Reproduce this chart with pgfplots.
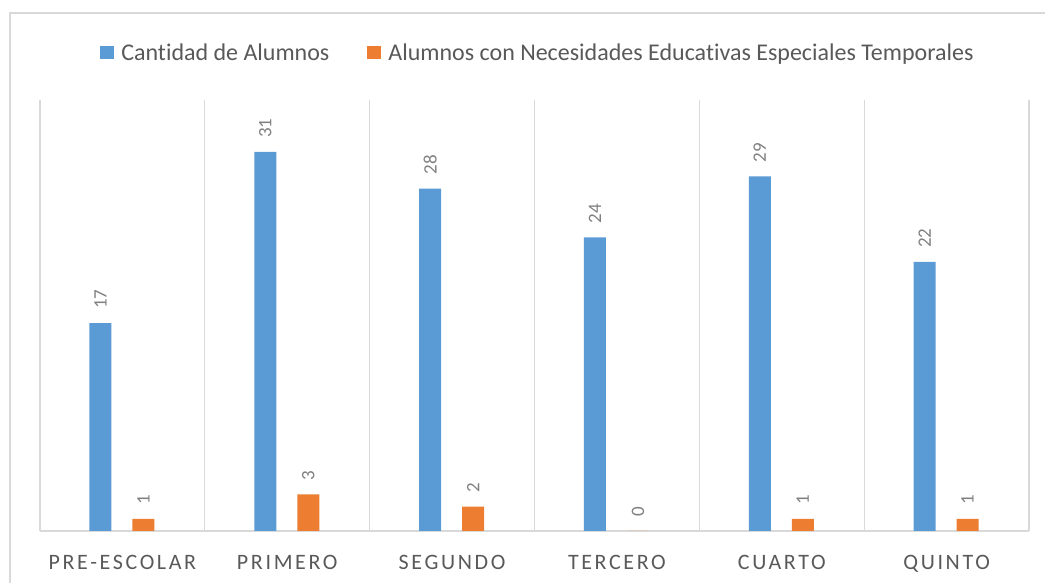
\documentclass[border=0pt]{standalone}
\usepackage{fontspec}
\setmainfont{Carlito}[Ligatures=NoCommon]
\usepackage{pgfplots}
\pgfplotsset{compat=1.18}
\definecolor{cblue}{HTML}{5B9BD5}
\definecolor{corange}{HTML}{ED7D31}
\definecolor{gridc}{HTML}{D9D9D9}
\definecolor{txt}{HTML}{595959}
\definecolor{lbl}{HTML}{808080}
\begin{document}
\begin{tikzpicture}[x=1pt,y=1pt]
\path[use as bounding box] (0,0) rectangle (1045,583);
\draw[gridc, line width=1.5pt] (10,-5) -- (10,570) -- (1050,570);
\begin{axis}[
  at={(40pt,52pt)}, anchor=south west,
  scale only axis, width=989pt, height=431pt,
  xmin=-0.5, xmax=5.5, ymin=0, ymax=35.24,
  clip=false,
  /pgf/number format/assume math mode=true,
  axis x line*=bottom, axis y line=none,
  x axis line style={gridc, line width=1.5pt, -},
  xtick={0,...,5},
  xticklabels={PRE-ESCOLAR,PRIMERO,SEGUNDO,TERCERO,CUARTO,QUINTO},
  major tick length=0pt,
  minor xtick={-0.5,0.5,...,5.5},
  minor tick length=0pt,
  xminorgrids=true,
  minor grid style={gridc, line width=1.2pt},
  xticklabel style={font=\fontsize{22}{26}\selectfont\addfontfeature{LetterSpace=12}, text=txt, yshift=-21pt},
  ybar, bar width=22pt,
  nodes near coords,
  every node near coord/.append style={rotate=90, anchor=west, inner xsep=14pt, inner ysep=0pt, font=\fontsize{19}{22}\selectfont, text=lbl},
  legend columns=2,
  legend style={at={(rel axis cs:0.5035,1.11)}, anchor=center, draw=none, fill=none,
    font=\fontsize{24}{28}\selectfont, text=txt,
    /tikz/every even column/.append style={column sep=36pt}},
]
\addplot[fill=cblue, draw=none, bar shift=-22pt,
  legend image code/.code={\fill[cblue] (0pt,-6.5pt) rectangle (14pt,6.5pt); \path (19pt,0pt);}]
  coordinates {(0,17) (1,31) (2,28) (3,24) (4,29) (5,22)};
\addlegendentry{Cantidad de Alumnos}
\addplot[fill=corange, draw=none, bar shift=21pt,
  legend image code/.code={\fill[corange] (0pt,-6.5pt) rectangle (14pt,6.5pt); \path (19pt,0pt);}]
  coordinates {(0,1) (1,3) (2,2) (3,0) (4,1) (5,1)};
\addlegendentry{Alumnos con Necesidades Educativas Especiales Temporales}
\end{axis}
\end{tikzpicture}
\end{document}
